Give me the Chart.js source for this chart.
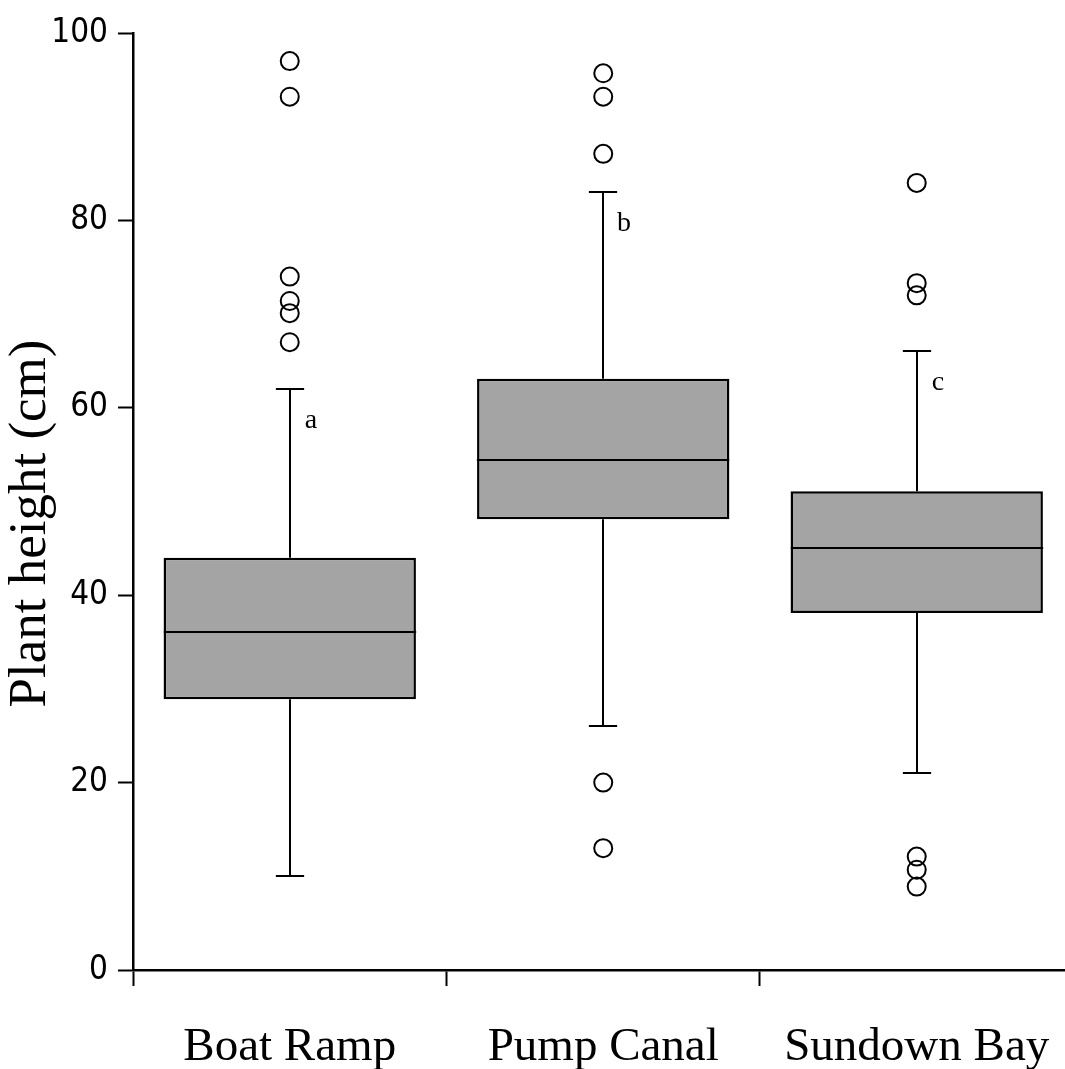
<!DOCTYPE html>
<html>
<head>
<meta charset="utf-8">
<script src="https://cdn.jsdelivr.net/npm/chart.js@4.4.1/dist/chart.umd.min.js"></script>
<style>
  html, body { margin: 0; padding: 0; background: #ffffff; overflow: hidden; }
  #c { display: block; }
</style>
</head>
<body>
<canvas id="c" width="1065" height="1069" style="width:1065px;height:1069px"></canvas>
<script>
// ---- data ----
const categories = ['Boat Ramp', 'Pump Canal', 'Sundown Bay'];
const q1 = [28.9, 48.1, 38.1];
const medians = [36.1, 54.4, 45.0];
const q3 = [44.0, 63.1, 51.1];
const whiskerLow = [10.0, 26.0, 21.0];
const whiskerHigh = [62.0, 83.0, 66.1];
const outliersBoatRamp = [97.0, 93.2, 74.0, 71.4, 70.1, 67.0];
const outliersPumpCanal = [95.7, 93.2, 87.1, 20.0, 13.0];
const outliersSundownBay = [84.0, 73.3, 72.0, 12.1, 10.7, 8.9];
const sigLetters = ['a', 'b', 'c'];
const yTicks = [0, 20, 40, 60, 80, 100];
const yTitle = 'Plant height (cm)';
// visible x range: the original figure is cropped at the right edge
const xMin = -0.5;
const xMax = 2.473;

const outlierLists = [outliersBoatRamp, outliersPumpCanal, outliersSundownBay];
const outlierPoints = [];
outlierLists.forEach((list, i) => list.forEach(v => outlierPoints.push({ x: i, y: v })));

const serif = "'Liberation Serif', 'Times New Roman', serif";
const narrow = "'Liberation Sans Narrow', 'DejaVu Sans Condensed', 'Liberation Sans', sans-serif";

const boxExtras = {
  id: 'boxExtras',
  afterDatasetsDraw(chart) {
    const ctx = chart.ctx;
    const x = chart.scales.x, y = chart.scales.y;
    const meta = chart.getDatasetMeta(0);
    ctx.save();
    ctx.strokeStyle = '#000000';
    ctx.lineWidth = 2;
    meta.data.forEach((bar, i) => {
      const cx = Math.round(x.getPixelForValue(i));
      const half = bar.width / 2;
      const cap = bar.width * 0.056;
      const yq1 = y.getPixelForValue(q1[i]);
      const yq3 = y.getPixelForValue(q3[i]);
      const ylo = Math.round(y.getPixelForValue(whiskerLow[i]));
      const yhi = Math.round(y.getPixelForValue(whiskerHigh[i]));
      const ym = Math.round(y.getPixelForValue(medians[i]));
      ctx.beginPath();
      ctx.moveTo(cx, yq3); ctx.lineTo(cx, yhi);
      ctx.moveTo(cx - cap, yhi); ctx.lineTo(cx + cap, yhi);
      ctx.moveTo(cx, yq1); ctx.lineTo(cx, ylo);
      ctx.moveTo(cx - cap, ylo); ctx.lineTo(cx + cap, ylo);
      ctx.moveTo(cx - half, ym); ctx.lineTo(cx + half, ym);
      ctx.stroke();
      ctx.fillStyle = '#000000';
      ctx.font = '28px ' + serif;
      ctx.textAlign = 'center';
      ctx.textBaseline = 'middle';
      ctx.fillText(sigLetters[i], cx + 21, yhi + 32);
    });
    const midY = (y.getPixelForValue(0) + y.getPixelForValue(100)) / 2 + 22;
    ctx.save();
    ctx.translate(y.left + 45, midY);
    ctx.rotate(-Math.PI / 2);
    ctx.font = '53px ' + serif;
    ctx.fillStyle = '#000000';
    ctx.textAlign = 'center';
    ctx.textBaseline = 'alphabetic';
    ctx.fillText(yTitle, 0, 0);
    ctx.restore();
    ctx.restore();
  }
};

new Chart(document.getElementById('c'), {
  data: {
    datasets: [
      {
        type: 'bar',
        data: categories.map((c, i) => ({ x: i, y: [q1[i], q3[i]] })),
        backgroundColor: '#a4a4a4',
        borderColor: '#000000',
        borderWidth: 2.5,
        borderSkipped: false,
        categoryPercentage: 0.805,
        barPercentage: 1.0,
        order: 2
      },
      {
        type: 'scatter',
        data: outlierPoints,
        pointStyle: 'circle',
        pointRadius: 9,
        pointBorderWidth: 2,
        pointBorderColor: '#000000',
        pointBackgroundColor: 'rgba(255,255,255,0)',
        showLine: false,
        order: 1
      }
    ]
  },
  options: {
    responsive: false,
    animation: false,
    events: [],
    layout: { autoPadding: false, padding: { top: 33, left: 0, right: 0, bottom: 0 } },
    plugins: { legend: { display: false }, tooltip: { enabled: false } },
    scales: {
      x: {
        type: 'linear',
        min: xMin,
        max: xMax,
        offset: false,
        afterBuildTicks(scale) { scale.ticks = categories.map((c, i) => ({ value: i })); },
        grid: { display: true, offset: true, drawOnChartArea: false, tickLength: 16, tickColor: '#000000', tickWidth: 2 },
        border: { display: true, color: '#000000', width: 2.5 },
        ticks: {
          color: '#000000', font: { family: serif, size: 47 }, padding: 33, maxRotation: 0, autoSkip: false,
          callback: (v) => categories[v]
        },
        afterFit(scale) { scale.height = 99; scale.paddingLeft = 0; scale.paddingRight = 0; }
      },
      y: {
        type: 'linear',
        min: 0,
        max: 100,
        afterBuildTicks(scale) { scale.ticks = yTicks.map(v => ({ value: v })); },
        grid: { display: true, drawOnChartArea: false, tickLength: 15, tickColor: '#000000', tickWidth: 2 },
        border: { display: true, color: '#000000', width: 2.5 },
        ticks: { color: '#000000', font: { family: narrow, size: 33 }, padding: 10 },
        title: { display: false, text: yTitle },
        afterFit(scale) { scale.width = 133; scale.paddingTop = 0; scale.paddingBottom = 0; }
      }
    }
  },
  plugins: [boxExtras]
});
</script>
</body>
</html>
